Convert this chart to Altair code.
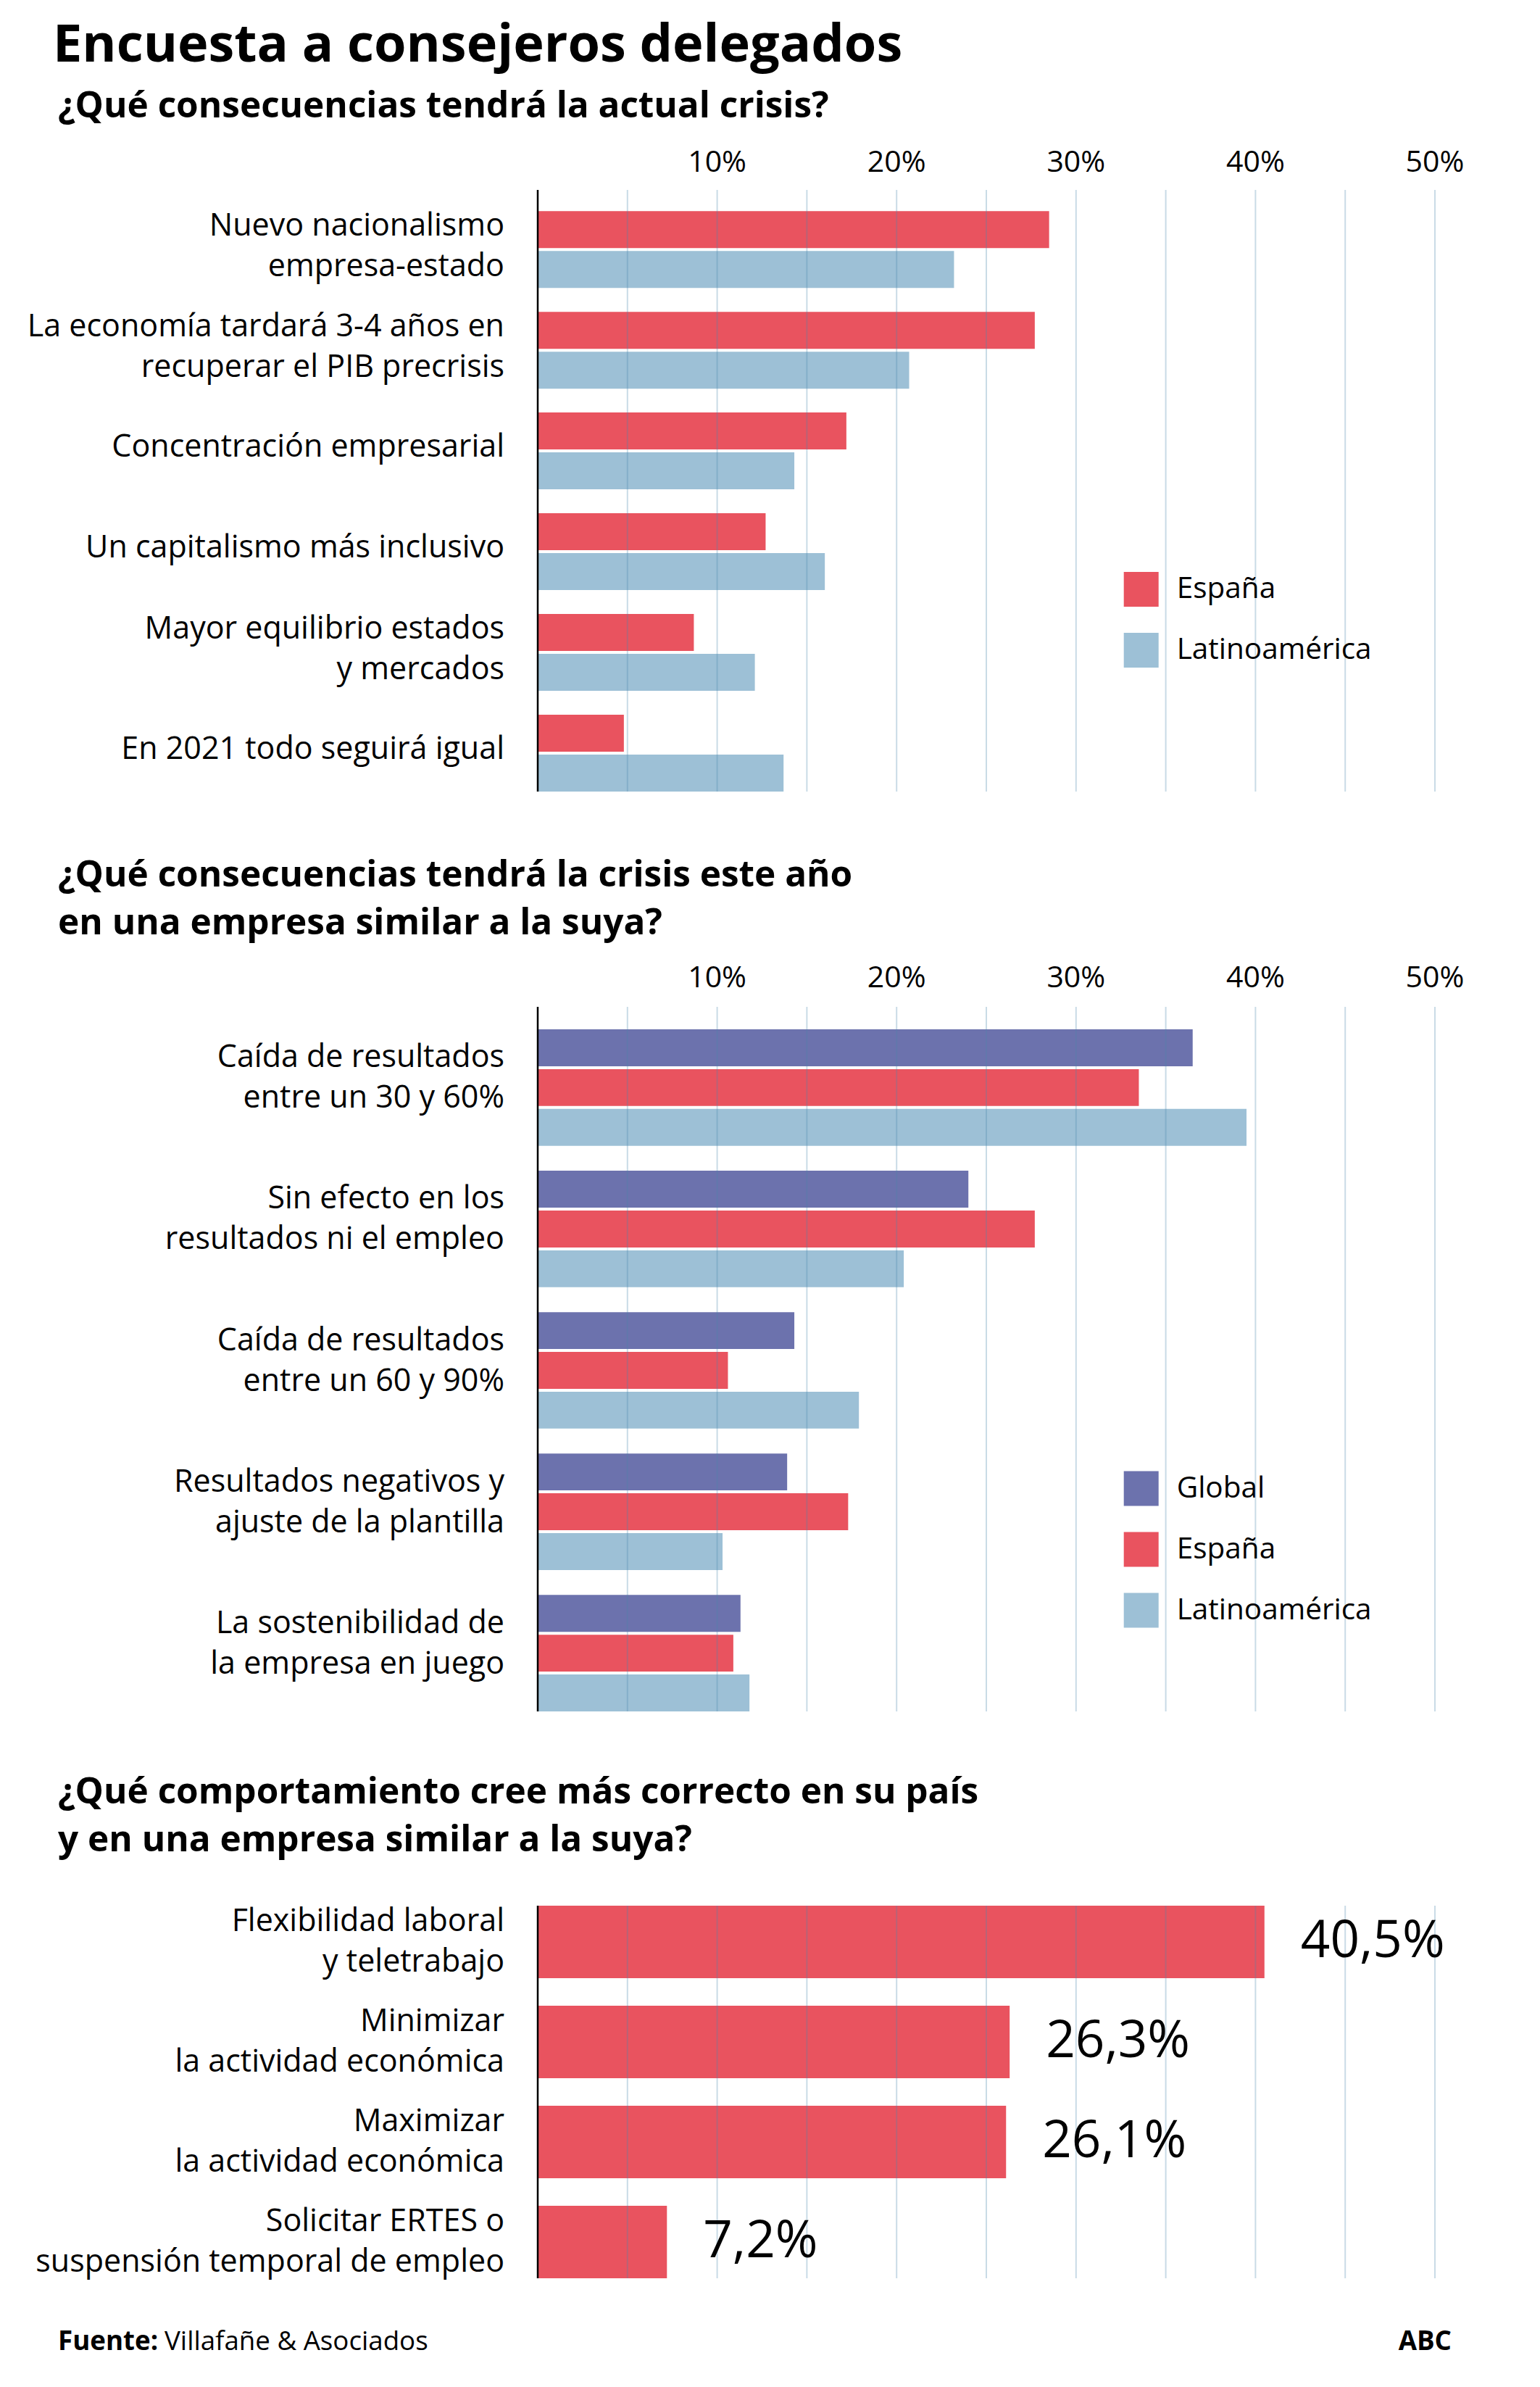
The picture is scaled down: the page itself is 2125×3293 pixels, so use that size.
import altair as alt
import pandas as pd

# ---------------- data ----------------
TITLE = "Encuesta a consejeros delegados"
SUB1 = ["¿Qué consecuencias tendrá la actual crisis?"]
SUB2 = ["¿Qué consecuencias tendrá la crisis este año", "en una empresa similar a la suya?"]
SUB3 = ["¿Qué comportamiento cree más correcto en su país", "y en una empresa similar a la suya?"]
SOURCE_LABEL = "Fuente:"
SOURCE = "Villafañe & Asociados"
BRAND = "ABC"

q1_cats = [
    "Nuevo nacionalismo\nempresa-estado",
    "La economía tardará 3-4 años en\nrecuperar el PIB precrisis",
    "Concentración empresarial",
    "Un capitalismo más inclusivo",
    "Mayor equilibrio estados\ny mercados",
    "En 2021 todo seguirá igual",
]
q1_espana = [28.5, 27.7, 17.2, 12.7, 8.7, 4.8]
q1_latam = [23.2, 20.7, 14.3, 16.0, 12.1, 13.7]

q2_cats = [
    "Caída de resultados\nentre un 30 y 60%",
    "Sin efecto en los\nresultados ni el empleo",
    "Caída de resultados\nentre un 60 y 90%",
    "Resultados negativos y\najuste de la plantilla",
    "La sostenibilidad de\nla empresa en juego",
]
q2_global = [36.5, 24.0, 14.3, 13.9, 11.3]
q2_espana = [33.5, 27.7, 10.6, 17.3, 10.9]
q2_latam = [39.5, 20.4, 17.9, 10.3, 11.8]

q3_cats = [
    "Flexibilidad laboral\ny teletrabajo",
    "Minimizar\nla actividad económica",
    "Maximizar\nla actividad económica",
    "Solicitar ERTES o\nsuspensión temporal de empleo",
]
q3_values = [40.5, 26.3, 26.1, 7.2]

series2 = ["España", "Latinoamérica"]
series3 = ["Global", "España", "Latinoamérica"]
tick_values = [10, 20, 30, 40, 50]
tick_labels = ["10%", "20%", "30%", "40%", "50%"]
grid_values = [5, 10, 15, 20, 25, 30, 35, 40, 45, 50]

# ---------------- styles ----------------
FONT = "Open Sans"
RED = "#e9535f"
BLUE = "#9dc0d6"
PURPLE = "#6c72ad"
GRID = "#4d88ad"

X = alt.Scale(domain=[0, 50], nice=False, zero=True)

df1 = pd.DataFrame(
    {"cat": q1_cats * 2, "serie": ["España"] * 6 + ["Latinoamérica"] * 6, "v": q1_espana + q1_latam}
)
df2 = pd.DataFrame(
    {
        "cat": q2_cats * 3,
        "serie": ["Global"] * 5 + ["España"] * 5 + ["Latinoamérica"] * 5,
        "v": q2_global + q2_espana + q2_latam,
    }
)
df3 = pd.DataFrame(
    {"cat": q3_cats, "v": q3_values, "lab": [f"{v:.1f}".replace(".", ",") + "%" for v in q3_values]}
)
grid_df = pd.DataFrame({"g": grid_values})
tick_df = pd.DataFrame({"t": tick_values, "lab": tick_labels})
one = pd.DataFrame({"a": [0]})


def legend(lx, ly):
    return alt.Legend(
        orient="none", legendX=lx, legendY=ly, title=None, symbolType="square",
        symbolSize=2304, symbolStrokeWidth=0, symbolOpacity=1, labelFontSize=40.5,
        labelFont=FONT, labelColor="black", rowPadding=36, labelOffset=25,
        padding=0, labelLimit=0,
    )


def grid(top, bottom):
    return alt.Chart(grid_df).mark_rule(color=GRID, opacity=0.3, strokeWidth=2).encode(
        x=alt.X("g:Q", scale=X, axis=None), y=alt.value(top), y2=alt.value(bottom)
    )


def axis_line(top, bottom):
    return alt.Chart(one).mark_rule(color="black", strokeWidth=2.5).encode(
        x=alt.value(0), y=alt.value(top), y2=alt.value(bottom)
    )


def ticks(y):
    return alt.Chart(tick_df).mark_text(
        align="center", baseline="alphabetic", fontSize=41, font=FONT, color="black"
    ).encode(x=alt.X("t:Q", scale=X, axis=None), y=alt.value(y), text="lab:N")


def cat_labels(cats, dy2, dy1=-5):
    base = alt.Chart(pd.DataFrame({"cat": cats}))
    enc = dict(y=alt.Y("cat:N", sort=cats, axis=None), x=alt.value(-46), text="cat:N")
    style = dict(align="right", baseline="middle", lineBreak="\n", fontSize=43,
                 lineHeight=56, font=FONT, color="black")
    single = base.transform_filter("indexof(datum.cat, '\\n') < 0").mark_text(dy=dy1, **style).encode(**enc)
    double = base.transform_filter("indexof(datum.cat, '\\n') >= 0").mark_text(dy=dy2, **style).encode(**enc)
    return alt.layer(single, double)


def txt(s, x, y, size, weight="normal", align="left"):
    return alt.Chart(pd.DataFrame({"t": [s]})).mark_text(
        align=align, baseline="alphabetic", fontSize=size, fontWeight=weight,
        font=FONT, color="black"
    ).encode(text="t:N", x=alt.value(x), y=alt.value(y))


# ---------------- panel 1 ----------------
P1 = (254, 1084)
bars1 = alt.Chart(df1).mark_bar().encode(
    x=alt.X("v:Q", scale=X, axis=None),
    y=alt.Y("cat:N", sort=q1_cats, axis=None,
            scale=alt.Scale(range=list(P1), paddingInner=0.237, paddingOuter=0.105, align=1)),
    yOffset=alt.YOffset("serie:N", sort=series2, scale=alt.Scale(paddingInner=0.073, paddingOuter=0)),
    color=alt.Color("serie:N", scale=alt.Scale(domain=series2, range=[RED, BLUE]),
                    legend=legend(808.7, 781)),
)
panel1 = alt.layer(bars1, grid(*P1), axis_line(*P1), cat_labels(q1_cats, -32), ticks(229))

# ---------------- panel 2 ----------------
P2 = (1381, 2353)
bars2 = alt.Chart(df2).mark_bar().encode(
    x=alt.X("v:Q", scale=X, axis=None),
    y=alt.Y("cat:N", sort=q2_cats, axis=None,
            scale=alt.Scale(range=list(P2), paddingInner=0.176, paddingOuter=0.0795, align=1)),
    yOffset=alt.YOffset("serie:N", sort=series3, scale=alt.Scale(paddingInner=0.073, paddingOuter=0)),
    color=alt.Color("serie:N", scale=alt.Scale(domain=series3, range=[PURPLE, RED, BLUE]),
                    legend=legend(808.7, 2021.6)),
)
panel2 = alt.layer(bars2, grid(*P2), axis_line(*P2), cat_labels(q2_cats, -41), ticks(1354))

# ---------------- panel 3 ----------------
P3 = (2621, 3135)
y3 = alt.Y("cat:N", sort=q3_cats, axis=None,
           scale=alt.Scale(range=list(P3), paddingInner=0.275, paddingOuter=0))
bars3 = alt.Chart(df3).mark_bar(color=RED).encode(x=alt.X("v:Q", scale=X, axis=None), y=y3)
vals3 = alt.Chart(df3).mark_text(
    align="left", baseline="middle", dx=50, fontSize=71, font=FONT, color="black"
).encode(x=alt.X("v:Q", scale=X, axis=None), y=y3, text="lab:N")
panel3 = alt.layer(bars3, grid(*P3), axis_line(*P3), cat_labels(q3_cats, -28), vals3)

# ---------------- texts ----------------
texts = [
    txt(TITLE, -669, 77, 72, "bold"),
    txt(SUB1[0], -662, 154, 49.5, "bold"),
    txt(SUB2[0], -662, 1215, 49.5, "bold"),
    txt(SUB2[1], -662, 1281, 49.5, "bold"),
    txt(SUB3[0], -662, 2480, 49.5, "bold"),
    txt(SUB3[1], -662, 2546, 49.5, "bold"),
    txt(SOURCE_LABEL, -662, 3234, 36.7, "bold"),
    txt(SOURCE, -515, 3234, 36.7),
    txt(BRAND, 1261, 3234, 36.7, "bold", "right"),
]

chart = (
    alt.layer(panel1, panel2, panel3, *texts)
    .resolve_scale(y="independent", yOffset="independent", color="independent")
    .properties(
        width=1238, height=3260,
        autosize=alt.AutoSizeParams(type="none"),
        padding={"left": 734, "top": 0, "right": 100, "bottom": 0},
    )
    .configure_view(stroke=None)
)

chart.save("out.html", embed_options={"renderer": "svg", "actions": False})
